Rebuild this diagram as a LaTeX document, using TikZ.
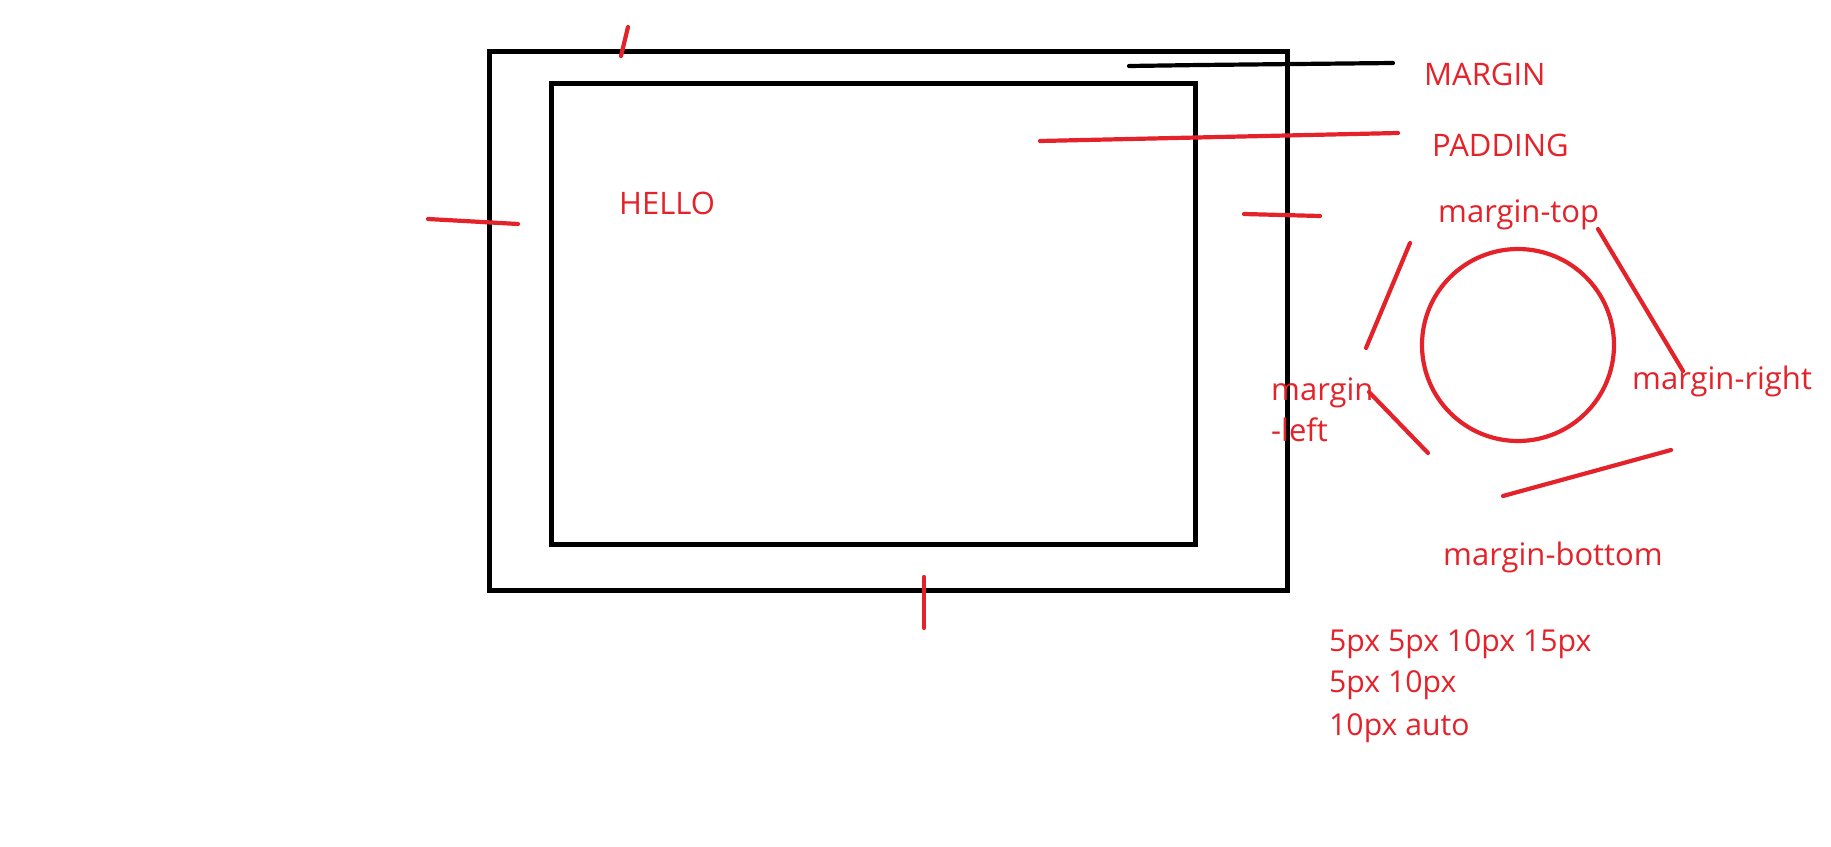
\documentclass[tikz,border=0pt]{standalone}
\usepackage{fontspec}
\setmainfont{Open Sans}
\definecolor{pred}{RGB}{228,34,42}
\begin{document}
\begin{tikzpicture}[x=1pt,y=-1pt,
  blk/.style={line width=5pt, black},
  rstroke/.style={line width=4.2pt, pred, line cap=round},
  kstroke/.style={line width=4.2pt, black, line cap=round},
  lbl/.style={text=pred, font=\fontsize{31}{36}\selectfont, inner sep=0pt, anchor=base west},
  vallbl/.style={lbl, font=\fontsize{30.2}{36}\selectfont}]
\useasboundingbox (0,0) rectangle (1831,846);
% boxes
\draw[blk] (489.5,51.5) rectangle (1287,590);
\draw[blk] (551.5,83.5) rectangle (1195,544);
% margin / padding pointers
\draw[kstroke] (1129,66) -- (1200,65) -- (1393,63);
\draw[rstroke] (1040,141) -- (1398,133);
% ticks
\draw[rstroke] (628,27) -- (621,56);
\draw[rstroke] (428,219) -- (518,224);
\draw[rstroke] (1244,214) -- (1320,216);
\draw[rstroke] (924,577) -- (924,628);
% circle
\draw[line width=4.2pt, pred] (1518,345) circle [radius=96];
\draw[rstroke] (1410,243) -- (1366,348);
\draw[rstroke] (1598,229) -- (1683,371);
\draw[rstroke] (1369,392) -- (1428,453);
\draw[rstroke] (1503,496) -- (1671,450);
% labels
\node[lbl] (margin) at (1424,85) {MARGIN};
\node[lbl] (padding) at (1432,156) {PADDING};
\node[lbl] (hello) at (619,214) {HELLO};
\node[lbl] (mtop) at (1438,222) {margin-top};
\node[lbl] (mright) at (1632,389) {margin-right};
\node[lbl] (mleft1) at (1271,400) {margin};
\node[lbl] (mleft2) at (1271,441) {-left};
\node[lbl] (mbottom) at (1443,565) {margin-bottom};
\node[vallbl] (v1) at (1329,651) {5px 5px 10px 15px};
\node[vallbl] (v2) at (1329,692) {5px 10px};
\node[vallbl] (v3) at (1329,735) {10px auto};
\end{tikzpicture}
\end{document}
